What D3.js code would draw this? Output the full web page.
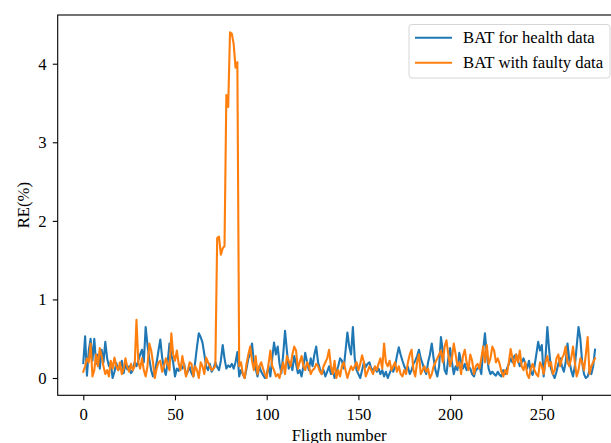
<!DOCTYPE html>
<html>
<head>
<meta charset="utf-8">
<script src="https://cdn.jsdelivr.net/npm/d3@7"></script>
<style>
  body { margin: 0; background: white; }
  svg text { font-family: "Liberation Serif", "Times New Roman", serif; fill: #000; }
</style>
</head>
<body>
<div id="chart"></div>
<script>
// reconstruction error per flight
var healthRE = [
  0.19, 0.53, 0.03, 0.35, 0.50, 0.22, 0.50, 0.18, 0.30, 0.12,
  0.36, 0.20, 0.46, 0.25, 0.15, 0.20, 0.00, 0.08, 0.19, 0.10,
  0.14, 0.22, 0.06, 0.18, 0.11, 0.15, 0.06, 0.10, 0.20, 0.15,
  0.22, 0.30, 0.36, 0.20, 0.65, 0.42, 0.24, 0.10, 0.02, 0.08,
  0.20, 0.35, 0.49, 0.26, 0.12, 0.04, 0.20, 0.44, 0.30, 0.20,
  0.02, 0.12, 0.09, 0.16, 0.12, 0.18, 0.04, 0.08, 0.14, 0.06,
  0.02, 0.20, 0.40, 0.57, 0.52, 0.45, 0.30, 0.15, 0.10, 0.18,
  0.08, 0.12, 0.20, 0.14, 0.10, 0.22, 0.42, 0.25, 0.12, 0.16,
  0.14, 0.18, 0.12, 0.20, 0.33, 0.02, 0.10, 0.05, 0.00, 0.12,
  0.25, 0.30, 0.44, 0.20, 0.12, 0.02, 0.15, 0.08, 0.04, 0.00,
  0.05, 0.15, 0.02, 0.25, 0.45, 0.30, 0.40, 0.18, 0.06, 0.30,
  0.60, 0.35, 0.12, 0.20, 0.10, 0.28, 0.18, 0.06, 0.10, 0.02,
  0.15, 0.32, 0.20, 0.10, 0.25, 0.15, 0.30, 0.40, 0.20, 0.12,
  0.05, 0.10, 0.02, 0.08, 0.15, 0.05, 0.12, 0.00, 0.08, 0.15,
  0.25, 0.22, 0.12, 0.35, 0.58, 0.40, 0.30, 0.65, 0.25, 0.10,
  0.05, 0.00, 0.10, 0.20, 0.14, 0.18, 0.20, 0.12, 0.10, 0.14,
  0.08, 0.12, 0.05, 0.10, 0.02, 0.08, 0.00, 0.06, 0.12, 0.08,
  0.15, 0.28, 0.39, 0.30, 0.22, 0.15, 0.10, 0.14, 0.05, 0.10,
  0.18, 0.22, 0.28, 0.36, 0.25, 0.18, 0.10, 0.05, 0.20, 0.30,
  0.44, 0.25, 0.10, 0.02, 0.15, 0.52, 0.35, 0.10, 0.05, 0.25,
  0.38, 0.20, 0.05, 0.15, 0.10, 0.32, 0.20, 0.12, 0.18, 0.10,
  0.15, 0.12, 0.05, 0.02, 0.10, 0.12, 0.15, 0.05, 0.35, 0.57,
  0.30, 0.12, 0.05, 0.08, 0.05, 0.03, 0.08, 0.04, 0.02, 0.10,
  0.05, 0.12, 0.18, 0.25, 0.20, 0.28, 0.30, 0.22, 0.15, 0.20,
  0.25, 0.18, 0.12, 0.22, 0.08, 0.04, 0.15, 0.30, 0.46, 0.35,
  0.42, 0.02, 0.25, 0.65, 0.35, 0.12, 0.05, 0.00, 0.08, 0.18,
  0.25, 0.15, 0.08, 0.20, 0.44, 0.22, 0.10, 0.02, 0.15, 0.40,
  0.65, 0.50, 0.20, 0.05, 0.00, 0.02, 0.10, 0.05, 0.15, 0.36
];

var faultyRE = [
  0.08, 0.15, 0.25, 0.20, 0.44, 0.02, 0.10, 0.30, 0.15, 0.38,
  0.28, 0.15, 0.05, 0.10, 0.02, 0.22, 0.12, 0.26, 0.15, 0.10,
  0.20, 0.05, 0.12, 0.25, 0.14, 0.08, 0.18, 0.10, 0.15, 0.74,
  0.20, 0.12, 0.25, 0.10, 0.02, 0.15, 0.44, 0.35, 0.20, 0.00,
  0.12, 0.20, 0.22, 0.08, 0.15, 0.25, 0.18, 0.10, 0.57, 0.30,
  0.22, 0.35, 0.18, 0.10, 0.28, 0.15, 0.02, 0.10, 0.20, 0.18,
  0.02, 0.15, 0.10, 0.00, 0.20, 0.15, 0.05, 0.26, 0.20, 0.15,
  0.10, 0.12, 0.15, 1.78, 1.80, 1.57, 1.65, 1.68, 3.60, 3.45,
  4.40, 4.38, 4.25, 3.95, 4.02, 0.15, 0.20, 0.05, 0.00, 0.18,
  0.30, 0.40, 0.22, 0.10, 0.28, 0.05, 0.15, 0.20, 0.12, 0.05,
  0.00, 0.18, 0.35, 0.15, 0.10, 0.02, 0.05, 0.00, 0.10, 0.20,
  0.05, 0.28, 0.22, 0.15, 0.30, 0.40, 0.35, 0.12, 0.20, 0.28,
  0.15, 0.10, 0.20, 0.15, 0.05, 0.10, 0.12, 0.18, 0.15, 0.08,
  0.05, 0.15, 0.20, 0.25, 0.36, 0.15, 0.05, 0.22, 0.00, 0.10,
  0.02, 0.15, 0.20, 0.10, 0.00, 0.08, 0.15, 0.10, 0.15, 0.20,
  0.10, 0.18, 0.29, 0.20, 0.02, 0.08, 0.15, 0.10, 0.05, 0.15,
  0.10, 0.18, 0.25, 0.12, 0.44, 0.20, 0.15, 0.22, 0.10, 0.15,
  0.20, 0.08, 0.15, 0.05, 0.02, 0.10, 0.05, 0.20, 0.30, 0.36,
  0.10, 0.02, 0.20, 0.30, 0.05, 0.10, 0.15, 0.08, 0.12, 0.00,
  0.05, 0.15, 0.20, 0.25, 0.30, 0.35, 0.20, 0.40, 0.48, 0.30,
  0.15, 0.25, 0.44, 0.30, 0.15, 0.20, 0.05, 0.28, 0.36, 0.20,
  0.10, 0.30, 0.22, 0.05, 0.15, 0.18, 0.12, 0.25, 0.40, 0.20,
  0.42, 0.18, 0.25, 0.40, 0.35, 0.20, 0.25, 0.18, 0.08, 0.02,
  0.10, 0.05, 0.20, 0.37, 0.25, 0.15, 0.30, 0.20, 0.35, 0.15,
  0.10, 0.20, 0.05, 0.00, 0.12, 0.18, 0.10, 0.05, 0.02, 0.20,
  0.15, 0.05, 0.20, 0.28, 0.15, 0.20, 0.05, 0.10, 0.25, 0.30,
  0.15, 0.25, 0.30, 0.40, 0.20, 0.15, 0.25, 0.40, 0.20, 0.02,
  0.10, 0.25, 0.20, 0.10, 0.30, 0.52, 0.05, 0.15, 0.20, 0.25
];

var seriesNames = ["BAT for health data", "BAT with faulty data"];
var seriesColors = ["#1f77b4", "#ff7f0e"];
var xTicks = [0, 50, 100, 150, 200, 250];
var yTicks = [0, 1, 2, 3, 4];

var W = 611, H = 443;
var plotL = 57.7, plotR = 620.6, plotT = 15, plotB = 395.3;
var fontSize = "16.7px";

var svg = d3.select("#chart").append("svg")
    .attr("width", W)
    .attr("height", H)
    .style("background-color", "white");

// matplotlib style 5% padding around the data
var n = healthRE.length;
var xPad = (n - 1) * 0.05;
var allVals = healthRE.concat(faultyRE);
var yMin = d3.min(allVals), yMax = d3.max(allVals);
var yPad = (yMax - yMin) * 0.05;

var x = d3.scaleLinear().domain([-xPad, n - 1 + xPad]).range([plotL, plotR]);
var y = d3.scaleLinear().domain([yMin - yPad, yMax + yPad]).range([plotB, plotT]);

var line = d3.line()
    .x(function(d, i) { return x(i); })
    .y(function(d) { return y(d); });

var plot = svg.append("g");

[healthRE, faultyRE].forEach(function(s, k) {
    plot.append("path")
        .datum(s)
        .attr("fill", "none")
        .attr("stroke", seriesColors[k])
        .attr("stroke-width", 2.1)
        .attr("stroke-linejoin", "round")
        .attr("stroke-linecap", "square")
        .attr("d", line);
});

// axes
var xAxis = d3.axisBottom(x).tickValues(xTicks).tickFormat(d3.format("d"))
    .tickSize(4.9).tickPadding(8.4);
var yAxis = d3.axisLeft(y).tickValues(yTicks).tickFormat(d3.format("d"))
    .tickSize(4.9).tickPadding(6.3);

var gx = svg.append("g").attr("transform", "translate(0," + plotB + ")").call(xAxis);
var gy = svg.append("g").attr("transform", "translate(" + plotL + ",0)").call(yAxis);

[gx, gy].forEach(function(g) {
    g.select(".domain").remove();
    g.selectAll(".tick line").attr("stroke", "#000").attr("stroke-width", 1.1);
    g.selectAll(".tick text")
        .style("font-family", "'Liberation Serif', 'Times New Roman', serif")
        .style("font-size", fontSize)
        .attr("fill", "#000");
});

// frame (right spine falls outside the picture)
svg.append("rect")
    .attr("x", plotL)
    .attr("y", plotT)
    .attr("width", plotR - plotL)
    .attr("height", plotB - plotT)
    .attr("fill", "none")
    .attr("stroke", "#000")
    .attr("stroke-width", 1.1);

svg.append("text")
    .attr("x", (plotL + plotR) / 2)
    .attr("y", 441)
    .attr("text-anchor", "middle")
    .style("font-size", fontSize)
    .text("Fligth number");

svg.append("text")
    .attr("transform", "translate(29," + ((plotT + plotB) / 2) + ") rotate(-90)")
    .attr("text-anchor", "middle")
    .style("font-size", fontSize)
    .text("RE(%)");

// legend
var legend = svg.append("g").attr("transform", "translate(409,24.5)");
legend.append("rect")
    .attr("width", 201)
    .attr("height", 53.5)
    .attr("rx", 3)
    .attr("fill", "white")
    .attr("fill-opacity", 0.8)
    .attr("stroke", "#d6d6d6")
    .attr("stroke-width", 1);

seriesNames.forEach(function(name, k) {
    var ly = 13.2 + k * 25;
    legend.append("line")
        .attr("x1", 6).attr("x2", 43)
        .attr("y1", ly).attr("y2", ly)
        .attr("stroke", seriesColors[k])
        .attr("stroke-width", 2.1);
    legend.append("text")
        .attr("x", 54)
        .attr("y", ly + 5.7)
        .style("font-size", fontSize)
        .text(name);
});
</script>
</body>
</html>
